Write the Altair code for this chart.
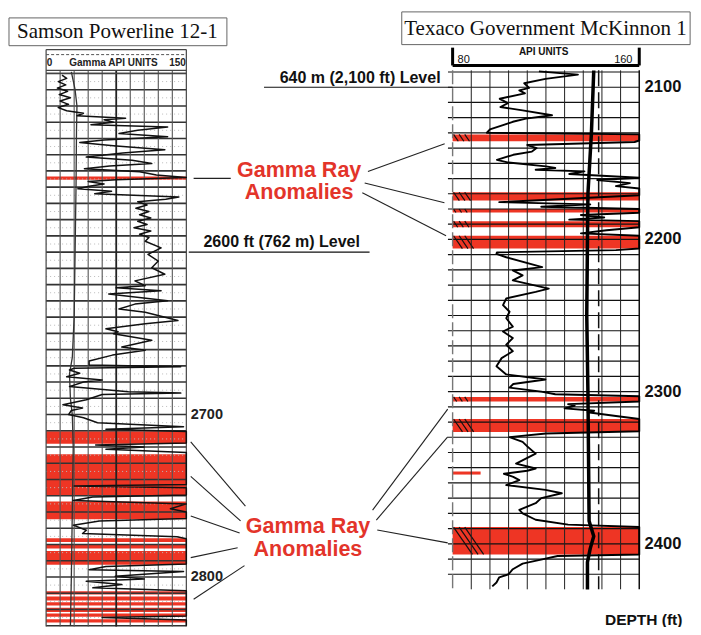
import altair as alt
import pandas as pd

# ---------------- values ----------------
# Samson Powerline 12-1 : gamma ray curve (depth ft, API units)
left_depth = [2491, 2493, 2495, 2497, 2499, 2501, 2503, 2505, 2507, 2509, 2511, 2513, 2514.5, 2516,
              2517.5, 2518.5, 2520, 2521.5, 2523, 2525, 2527, 2529, 2531, 2532.5, 2534.5, 2537, 2539,
              2541.5, 2543.5, 2545.5, 2547, 2548.6, 2550.5, 2552.5, 2554, 2555.5, 2556.5, 2558, 2559.5,
              2561, 2562.5, 2564, 2566, 2567.5, 2569, 2571, 2573, 2575, 2577, 2579, 2581, 2583, 2585,
              2587, 2589, 2591, 2593.3, 2597.4, 2601.4, 2605.5, 2609.6, 2613.6, 2617.7, 2620.7, 2622,
              2623.8, 2625.8, 2629.9, 2632, 2635, 2637, 2642.1, 2644.1, 2647.2, 2649, 2650.2, 2654.3,
              2658.4, 2660.4, 2663.4, 2667, 2669.5, 2670.6, 2671.5, 2672.6, 2674.6, 2676.7, 2678.7, 2680,
              2682.8, 2686, 2686.8, 2687.6, 2690.9, 2693.9, 2695.9, 2697.5, 2700, 2702, 2705, 2707.5,
              2709, 2710.5, 2717.5, 2718.7, 2719.9, 2721.3, 2723.4, 2743, 2744, 2745, 2749.5, 2750.8,
              2752.9, 2755, 2758, 2760, 2764, 2765.5, 2768.1, 2771.2, 2773.2, 2775.2, 2776.5, 2792,
              2793.5, 2795.5, 2796.6, 2799.6, 2801.2, 2802.7, 2804.7, 2806.7, 2808.5, 2824, 2825,
              2826.5, 2830]
left_gamma = [17, 22, 13, 21, 12, 23, 14, 26, 15, 24, 13, 22, 40, 33,
              85, 62, 72, 48, 130, 98, 78, 130, 62, 36, 72, 127, 82,
              43, 92, 113, 68, 41, 100, 118, 150, 75, 45, 62, 46,
              34, 70, 52, 142, 128, 98, 108, 96, 110, 100, 112, 98, 108, 94,
              112, 100, 110, 106, 123, 109, 120, 113, 127, 95, 106, 75,
              123, 67, 130, 95, 78, 106, 141, 106, 64, 77, 72, 113,
              81, 106, 71, 46, 46, 144, 30, 25, 36, 22, 60, 40,
              25, 88, 144, 60, 43, 18, 39, 27, 24, 40, 55, 147,
              64, 150, 150, 53, 105, 64, 150, 150, 30, 150, 150, 50,
              29, 150, 133, 150, 150, 57, 29, 43, 39, 140, 150, 150,
              64, 46, 147, 74, 105, 43, 81, 50, 150, 150, 60,
              150, 150]
# second (caliper) trace of the left log
left_cal_depth = [2489, 2500, 2510, 2525, 2560, 2600, 2640, 2665, 2675, 2690, 2700, 2720, 2760, 2800, 2830]
left_cal_api = [27, 31, 33, 32.5, 32, 31, 30, 28, 25, 26, 28, 29, 28, 27, 26]
# red anomaly bands of the left log (depth ft)
left_band_top = [2553.5, 2710.2, 2724.4, 2753.5, 2776.2, 2780.0, 2784.0, 2808.8, 2812.0, 2815.5, 2819.0, 2822.5, 2826.0]
left_band_bot = [2555.5, 2717.9, 2749.5, 2764.5, 2778.5, 2782.5, 2792.5, 2810.8, 2814.5, 2817.5, 2821.5, 2824.5, 2828.0]

# Texaco Government McKinnon 1 : gamma ray curve (depth ft, API units)
right_depth = [2089.6, 2091.7, 2094.5, 2097.4, 2100.4, 2102.1, 2104, 2107.6, 2110.4, 2113, 2115.2,
               2118.4, 2120.6, 2122.7, 2124.9, 2127.7, 2129.9, 2131, 2135, 2136, 2138, 2140, 2142.3,
               2144.4, 2147.7, 2149.5, 2152, 2153.1, 2154.2, 2155.3, 2157, 2159.5, 2161, 2163, 2165,
               2166.5, 2171, 2175.5, 2177, 2178.5, 2180, 2182.5, 2184, 2185.6, 2187, 2188, 2192, 2194,
               2196, 2197.6, 2206, 2207, 2208.5, 2209.5, 2211.7, 2218.2, 2220.4, 2223.6, 2226.9, 2232.3,
               2234.5, 2238.8, 2243.2, 2247.5, 2251.8, 2257.3, 2260.5, 2264.8, 2269.2, 2273.5, 2278,
               2283.3, 2288.7, 2292, 2295, 2297.4, 2300, 2301.7, 2303, 2306.5, 2308.2, 2309.3, 2311,
               2312.6, 2313.6, 2316, 2318, 2326, 2327.5, 2329.9, 2333, 2336, 2340.8, 2347.3, 2350.5,
               2352, 2354, 2356, 2358.1, 2361.4, 2364.6, 2366.8, 2370, 2373.3, 2377.7, 2380, 2384.2,
               2387.4, 2389, 2407, 2408, 2410.2, 2413, 2416.7, 2420, 2422, 2425.4, 2428]
right_gamma = [117, 133.7, 119.8, 110.7, 112.8, 108.6, 111, 100.2, 103.7, 100.5, 110,
               122.6, 111.4, 105.8, 101.6, 96, 94.7, 160, 160, 158, 112, 116, 114,
               106, 99, 104, 120, 124, 115.6, 136.5, 130, 160, 142, 156, 150,
               160, 160, 100, 139, 118, 160, 160, 135, 145, 130, 160, 160, 146,
               135, 160, 160, 150, 99, 98.8, 103, 118.4, 105.8, 110, 105.8, 121.2,
               115.6, 103, 101.6, 104.4, 103, 105.8, 101.6, 105.8, 103, 105.8, 101,
               98.8, 103, 119.8, 106, 104.4, 118, 124, 160, 160, 129.5, 132.3, 128,
               140.7, 137.9, 150, 160, 160, 120, 104.4, 110, 112, 115.6, 107.2, 115.6,
               112, 102, 106, 108.6, 103, 119.8, 126.8, 118, 115.6, 108.6, 110, 115.6,
               129.5, 160, 160, 125, 118.4, 110, 105.8, 104, 100, 98.8, 97]
# heavy second trace of the right log
right_res_depth = [2089, 2130, 2170, 2200, 2250, 2300, 2350, 2385, 2395, 2403, 2412, 2430]
right_res_api = [140.5, 139.5, 138, 137.8, 137.5, 138, 138.3, 138.5, 140.5, 139, 137.8, 137.8]
# red anomaly bands of the right log (depth ft, right end in API)
right_band_top = [2131, 2169, 2180, 2188, 2197.6, 2303.5, 2318, 2352.5, 2389]
right_band_bot = [2135.5, 2174.5, 2182.3, 2192, 2206, 2306.5, 2326.5, 2354.5, 2407]
right_band_end = [160, 160, 160, 160, 160, 160, 160, 92, 160]

depth_ticks_left = [2700, 2800]
depth_ticks_right = [2100, 2200, 2300, 2400]

# ---------------- layout (plot area maps the reference frame) ----------------
W, H = 685, 619
REF_W, REF_Y0, REF_Y1 = 701, 10, 635


def lin(p0, v0, p1, v1, p):
    return v0 + (p - p0) * (v1 - v0) / (p1 - p0)


L_X = alt.Scale(domain=[lin(39, 0, 182.5, 150, 0), lin(39, 0, 182.5, 150, REF_W)], nice=False, zero=False)
L_Y = alt.Scale(domain=[lin(256.5, 2600, 420.5, 2700, REF_Y0), lin(256.5, 2600, 420.5, 2700, REF_Y1)],
                nice=False, zero=False, reverse=True)
R_X = alt.Scale(domain=[lin(455, 80, 646, 160, 0), lin(455, 80, 646, 160, REF_W)], nice=False, zero=False)
R_Y = alt.Scale(domain=[lin(90, 2100, 551, 2400, REF_Y0), lin(90, 2100, 551, 2400, REF_Y1)],
                nice=False, zero=False, reverse=True)

RED = "#ee3524"
RED_TXT = "#e3342a"


def segs(rows, xs, ys, color, width, dash=None):
    df = pd.DataFrame(rows, columns=["x", "y", "x2", "y2"])
    kw = dict(color=color, strokeWidth=width)
    if dash:
        kw["strokeDash"] = dash
    return alt.Chart(df).mark_rule(**kw).encode(
        x=alt.X("x:Q", scale=xs, axis=None), y=alt.Y("y:Q", scale=ys, axis=None),
        x2="x2:Q", y2="y2:Q")


def rects(rows, xs, ys, **mk):
    df = pd.DataFrame(rows, columns=["x", "x2", "y", "y2"])
    return alt.Chart(df).mark_rect(**mk).encode(
        x=alt.X("x:Q", scale=xs, axis=None), y=alt.Y("y:Q", scale=ys, axis=None),
        x2="x2:Q", y2="y2:Q")


def texts(rows, xs, ys, **mk):
    df = pd.DataFrame(rows, columns=["x", "y", "t"])
    return alt.Chart(df).mark_text(**mk).encode(
        x=alt.X("x:Q", scale=xs, axis=None), y=alt.Y("y:Q", scale=ys, axis=None), text="t:N")


def curve(depths, apis, xs, ys, color, width):
    df = pd.DataFrame({"depth": depths, "api": apis, "i": range(len(depths))})
    return alt.Chart(df).mark_line(color=color, strokeWidth=width, strokeJoin="round").encode(
        x=alt.X("api:Q", scale=xs, axis=None), y=alt.Y("depth:Q", scale=ys, axis=None), order="i:Q")


# ---------------- left log ----------------
L_TOP, L_BOT = 2475.3, 2830.5
left_layers = [
    rects([(-39.7, 193.4, 2455.8, 2472.9)], L_X, L_Y, fill="white", stroke="#666", strokeWidth=1),
    texts([(76.3, 2464.6, "Samson Powerline 12-1")], L_X, L_Y, font="Liberation Serif", fontSize=21,
          color="#111", baseline="middle", align="center"),
    rects([(0, 150, t, b) for t, b in zip(left_band_top, left_band_bot)], L_X, L_Y, color=RED),
    segs([(0, d, 150, d) for d in [x + 5 for x in range(2490, 2830, 10)]], L_X, L_Y, "#bbb", 1, [1, 3]),
    segs([(0, d, 150, d) for d in range(2490, 2831, 10)], L_X, L_Y, "#333", 1.6),
    segs([(a, 2488.1, a, L_BOT) for a in range(15, 150, 15) if a != 75], L_X, L_Y, "#555", 1.1),
    segs([(75, 2488.1, 75, L_BOT)], L_X, L_Y, "#222", 1.8),
    segs([(0, L_TOP, 0, L_BOT), (150, L_TOP, 150, L_BOT), (0, L_TOP, 150, L_TOP),
          (0, 2488.1, 150, 2488.1), (0, 2490, 150, 2490)], L_X, L_Y, "#444", 1.2),
    segs([(0, 2478.4, 150, 2478.4)], L_X, L_Y, "#555", 1, [3, 2]),
    texts([(0.8, 2483.8, "0")], L_X, L_Y, font="Liberation Sans", fontSize=10, fontWeight="bold",
          align="left", baseline="middle", color="#222"),
    texts([(72, 2483.8, "Gamma API UNITS")], L_X, L_Y, font="Liberation Sans", fontSize=10,
          fontWeight="bold", align="center", baseline="middle", color="#222"),
    texts([(149.5, 2483.8, "150")], L_X, L_Y, font="Liberation Sans", fontSize=10, fontWeight="bold",
          align="right", baseline="middle", color="#222"),
    curve(left_cal_depth, left_cal_api, L_X, L_Y, "#333", 1.3),
    curve(left_depth, left_gamma, L_X, L_Y, "#111", 1.5),
    texts([(154.7, d, str(d)) for d in depth_ticks_left], L_X, L_Y, font="Liberation Sans",
          fontSize=14.5, fontWeight="bold", align="left", baseline="middle", color="#222"),
    segs([(152.6, 2600, 346, 2600)], L_X, L_Y, "#111", 1.1),
    texts([(168.3, 2597.1, "2600 ft (762 m) Level")], L_X, L_Y, font="Liberation Sans", fontSize=16,
          fontWeight="bold", align="left", baseline="alphabetic", color="#111"),
    segs([(157.8, 2554.6, 197.5, 2554.6),
          (154.7, 2716.8, 213.2, 2756.4), (154.7, 2738.1, 208.0, 2765.5),
          (154.7, 2762.5, 207.0, 2772.9), (154.7, 2788.1, 204.9, 2782.0),
          (212.2, 2793.0, 157.8, 2813.7)], L_X, L_Y, "#222", 1.1),
    texts([(270.7, 2553.8, "Gamma Ray"), (270.7, 2567.4, "Anomalies"),
           (280.1, 2772.9, "Gamma Ray"), (280.1, 2786.9, "Anomalies")], L_X, L_Y,
          font="Liberation Sans", fontSize=21.5, fontWeight="bold", align="center",
          baseline="alphabetic", color=RED_TXT),
]

# ---------------- right log ----------------
R_TOP, R_BOT = 2088.9, 2429.9
hatch = []
for t, b, e in zip(right_band_top, right_band_bot, right_band_end):
    if e < 160:
        continue
    dx = (b - t) * 0.45
    for k in range(3):
        x0 = 80.4 + k * 2.4
        hatch.append((x0, t, x0 + dx, b))

right_layers = [
    rects([(58.2, 181.8, 2050.5, 2072.0)], R_X, R_Y, fill="white", stroke="#666", strokeWidth=1),
    texts([(119.8, 2061.8, "Texaco Government McKinnon 1")], R_X, R_Y, font="Liberation Serif",
          fontSize=21, color="#111", baseline="middle", align="center"),
    rects([(80, e, t, b) for t, b, e in zip(right_band_top, right_band_bot, right_band_end)],
          R_X, R_Y, color=RED),
    segs(hatch, R_X, R_Y, "#111", 1.2),
    segs([(78, d, 160, d) for d in range(2090, 2421, 10)], R_X, R_Y, "#111", 1.2),
    segs([(a, R_TOP, a, R_BOT) for a in range(88, 160, 8)], R_X, R_Y, "#222", 1),
    segs([(160, R_TOP, 160, R_BOT)], R_X, R_Y, "#111", 1.5),
    segs([(80, R_TOP, 80, R_BOT)], R_X, R_Y, "#777", 1.4, [14, 4]),
    segs([(142.6, R_TOP, 142.6, R_BOT)], R_X, R_Y, "#111", 1.5, [16, 6]),
    curve(right_res_depth, right_res_api, R_X, R_Y, "#000", 3.5),
    curve(right_depth, right_gamma, R_X, R_Y, "#000", 1.9),
    segs([(80, 2074.0, 80, 2085.7), (160, 2074.0, 160, 2085.7), (80, 2085.7, 160, 2085.7)],
         R_X, R_Y, "#000", 3),
    texts([(119, 2076.6, "API UNITS")], R_X, R_Y, font="Liberation Sans", fontSize=10,
          fontWeight="bold", align="center", baseline="middle", color="#111"),
    texts([(82.1, 2082.2, "80")], R_X, R_Y, font="Liberation Sans", fontSize=11, align="left",
          baseline="middle", color="#111"),
    texts([(157.1, 2082.2, "160")], R_X, R_Y, font="Liberation Sans", fontSize=11, align="right",
          baseline="middle", color="#111"),
    texts([(162.3, d, str(d)) for d in depth_ticks_right], R_X, R_Y, font="Liberation Sans",
          fontSize=16.5, fontWeight="bold", align="left", baseline="middle", color="#111"),
    texts([(145.3, 2450.1, "DEPTH (ft)")], R_X, R_Y, font="Liberation Sans", fontSize=15.5,
          fontWeight="bold", align="left", baseline="middle", color="#111"),
    segs([(-0.84, 2100, 80, 2100)], R_X, R_Y, "#111", 1.1),
    texts([(5.86, 2097.2, "640 m (2,100 ft) Level")], R_X, R_Y, font="Liberation Sans", fontSize=16,
          fontWeight="bold", align="left", baseline="alphabetic", color="#111"),
    segs([(43.7, 2155.3, 76.6, 2137.1), (42.3, 2162.9, 76.5, 2175.9), (41.3, 2169.4, 77.2, 2197.6),
          (45.7, 2377.9, 77.9, 2311.5), (47.3, 2384.4, 77.9, 2329.7), (47.7, 2390.9, 77.9, 2399.4)],
         R_X, R_Y, "#222", 1.1),
]

chart = alt.layer(alt.layer(*left_layers), alt.layer(*right_layers)).resolve_scale(
    x="independent", y="independent"
).properties(
    width=W, height=H, padding=0, background="white",
    autosize=alt.AutoSizeParams(type="none"),
).configure_view(stroke=None)

chart.save("out.html", embed_options={"renderer": "svg", "actions": False})
